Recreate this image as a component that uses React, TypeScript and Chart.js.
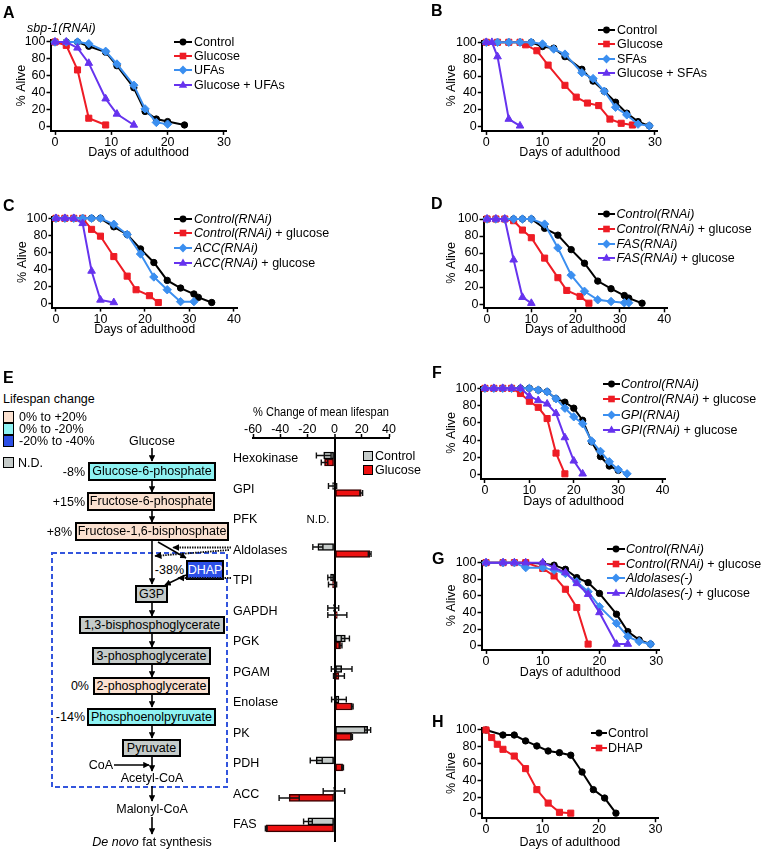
import React, { useEffect, useRef } from 'react';
import { Chart, registerables } from 'chart.js';

Chart.register(...registerables);

const FONT = '"Liberation Sans", Arimo, Arial, Helvetica, sans-serif';
const FS = 12.5;
const RED = '#ee1c25';
const BLUE = '#3b8ff0';
const PURPLE = '#6633ee';
const BLACK = '#000000';
const PEACH = '#fbe1d0';
const CYAN = '#8ef3f3';
const DBLUE = '#2c4fe6';
const GRAY = '#c5cbc9';

// ---------- Panel A : sbp-1(RNAi) ----------
const aControlDays = [0, 2, 4, 6, 9, 11, 14, 16, 18, 20, 23];
const aControl = [100, 100, 100, 95, 88, 72, 46, 18, 9, 6, 2];
const aGlucoseDays = [0, 2, 4, 6, 9];
const aGlucose = [100, 96, 67, 10, 2];
const aUfaDays = [0, 2, 4, 6, 9, 11, 14, 16, 18, 20];
const aUfa = [100, 100, 100, 98, 89, 74, 49, 21, 5, 3];
const aGluUfaDays = [0, 2, 4, 6, 9, 11, 14];
const aGluUfa = [100, 100, 93, 75, 33, 15, 2];

// ---------- Panel B ----------
const bControlDays = [0, 2, 4, 6, 8, 10, 12, 14, 17, 19, 21, 23, 25, 27, 29];
const bControl = [100, 100, 100, 100, 100, 95, 93, 83, 68, 54, 42, 29, 16, 6, 1];
const bGlucoseDays = [0, 2, 4, 6, 7, 9, 11, 14, 16, 18, 20, 22, 24, 26];
const bGlucose = [100, 100, 100, 100, 97, 90, 73, 49, 35, 28, 25, 9, 4, 2];
const bSfaDays = [0, 2, 4, 6, 8, 10, 12, 14, 17, 19, 21, 23, 25, 27, 29];
const bSfa = [100, 100, 100, 100, 100, 98, 92, 86, 64, 57, 42, 23, 14, 3, 1];
const bGluSfaDays = [0, 1, 2, 4, 6];
const bGluSfa = [100, 100, 83, 9, 1];

// ---------- Panel C ----------
const cControlDays = [0, 2, 4, 6, 8, 10, 13, 16, 19, 22, 25, 28, 31, 32, 35];
const cControl = [100, 100, 100, 100, 100, 100, 90, 81, 64, 48, 27, 18, 11, 7, 1];
const cControlGluDays = [0, 2, 4, 6, 8, 10, 13, 16, 18, 21, 23];
const cControlGlu = [100, 100, 100, 100, 87, 79, 55, 32, 16, 9, 1];
const cAccDays = [0, 2, 4, 6, 8, 10, 13, 16, 19, 22, 25, 28, 31];
const cAcc = [100, 100, 100, 100, 100, 100, 93, 81, 58, 31, 16, 2, 2];
const cAccGluDays = [0, 2, 4, 6, 8, 10, 13];
const cAccGlu = [100, 100, 100, 94, 38, 4, 1];

// ---------- Panel D ----------
const dControlDays = [0, 2, 4, 6, 8, 10, 13, 16, 19, 22, 25, 28, 31, 32, 35];
const dControl = [100, 100, 100, 100, 100, 100, 89, 81, 64, 48, 27, 18, 10, 7, 1];
const dControlGluDays = [0, 2, 4, 6, 8, 10, 13, 16, 18, 21, 23];
const dControlGlu = [100, 100, 100, 98, 87, 78, 54, 31, 16, 9, 1];
const dFasDays = [0, 2, 4, 6, 8, 10, 13, 16, 19, 22, 25, 28, 31, 32];
const dFas = [100, 100, 100, 100, 100, 100, 94, 66, 34, 15, 5, 3, 1.5, 1.5];
const dFasGluDays = [0, 2, 4, 6, 8, 10];
const dFasGlu = [100, 100, 100, 52, 8, 1];

// ---------- Panel E : bar chart ----------
const enzymes = ['Hexokinase', 'GPI', 'PFK', 'Aldolases', 'TPI', 'GAPDH', 'PGK', 'PGAM', 'Enolase', 'PK', 'PDH', 'ACC', 'FAS'];
const controlChange = [-8, -1.5, null, -12.3, -3, -1, 7.9, 5.2, 3.2, 24.3, -13.5, -0.5, -19.6];
const controlErr = [5.4, 3, null, 3.7, 2, 4, 3, 7.6, 5.4, 2.2, 4.4, 7.9, 3.2];
const glucoseChange = [-7.4, 19.6, null, 25.8, -1.5, 2, 4.4, 3.2, 13, 12.5, 5.9, -33.4, -50.3];
const glucoseErr = [2.4, 1, null, 1, 3, 7, 1, 4, 0.6, 0.6, 0.6, 7.4, 0.6];

// ---------- Panel F ----------
const fControlDays = [0, 2, 4, 6, 8, 10, 12, 14, 16, 18, 20, 22, 24, 26, 28, 30];
const fControl = [100, 100, 100, 100, 100, 100, 98, 96, 88, 84, 77, 63, 38, 21, 10, 5];
const fControlGluDays = [0, 2, 4, 6, 8, 10, 12, 14, 16, 18];
const fControlGlu = [100, 100, 100, 100, 94, 85, 78, 65, 25, 1];
const fGpiDays = [0, 2, 4, 6, 8, 10, 12, 14, 16, 18, 20, 22, 24, 26, 28, 30, 32];
const fGpi = [100, 100, 100, 100, 100, 100, 98, 96, 88, 77, 67, 59, 39, 27, 15, 6, 1];
const fGpiGluDays = [0, 2, 4, 6, 8, 10, 12, 14, 16, 18, 20, 22];
const fGpiGlu = [100, 100, 100, 100, 100, 91, 86, 82, 71, 43, 16, 1];

// ---------- Panel G ----------
const gControlDays = [0, 3, 5, 7, 10, 12, 14, 16, 18, 20, 23, 25, 27, 29];
const gControl = [100, 100, 100, 100, 99, 97, 92, 82, 76, 63, 38, 17, 7, 2];
const gControlGluDays = [0, 3, 5, 7, 10, 12, 14, 16, 18];
const gControlGlu = [100, 100, 100, 100, 93, 84, 68, 46, 2];
const gAldDays = [0, 3, 5, 7, 10, 12, 14, 16, 18, 20, 23, 25, 27, 29];
const gAld = [100, 100, 100, 94, 94, 91, 87, 77, 65, 47, 27, 11, 5, 2];
const gAldGluDays = [0, 3, 5, 7, 10, 12, 14, 16, 18, 20, 23, 25];
const gAldGlu = [100, 100, 100, 100, 100, 94, 88, 75, 62, 40, 2, 2];

// ---------- Panel H ----------
const hControlDays = [0, 3, 5, 7, 9, 11, 13, 15, 17, 19, 21, 23];
const hControl = [100, 94, 94, 87, 81, 75, 73, 70, 50, 29, 19, 1];
const hDhapDays = [0, 1, 2, 3, 5, 7, 9, 11, 13, 15];
const hDhap = [100, 91, 83, 77, 69, 54, 29, 13, 2, 1];

type Pt = 'circle' | 'rect' | 'rectRot' | 'triangle';
const RADIUS: Record<string, number> = { circle: 3.2, rect: 4.3, rectRot: 4.2, triangle: 4.4 };

interface SeriesDef { name: string; label: React.ReactNode; xs: number[]; ys: number[]; color: string; shape: Pt; }
interface PanelDef {
  area: { l: number; t: number; r: number; b: number };
  canvas: { left: number; top: number; w: number; bottom: number };
  xMin: number; xMax: number;
  yTitleX: number; xTitleY: number;
  series: SeriesDef[];
  legend: { x: number; len: number; textX: number; ys: number[] };
}

const I = (s: string) => <i>{s}</i>;

const panels: PanelDef[] = [
  {
    area: { l: 50.5, t: 40.3, r: 226.7, b: 130.9 }, canvas: { left: 0, top: 25, w: 240, bottom: 165 },
    xMin: -0.8, xMax: 30.5, yTitleX: 22, xTitleY: 152.5,
    series: [
      { name: 'Control', label: 'Control', xs: aControlDays, ys: aControl, color: BLACK, shape: 'circle' },
      { name: 'Glucose', label: 'Glucose', xs: aGlucoseDays, ys: aGlucose, color: RED, shape: 'rect' },
      { name: 'UFAs', label: 'UFAs', xs: aUfaDays, ys: aUfa, color: BLUE, shape: 'rectRot' },
      { name: 'Glucose + UFAs', label: 'Glucose + UFAs', xs: aGluUfaDays, ys: aGluUfa, color: PURPLE, shape: 'triangle' },
    ],
    legend: { x: 174, len: 18, textX: 194, ys: [42, 55.5, 70, 85] },
  },
  {
    area: { l: 481.8, t: 40.6, r: 657.7, b: 130.9 }, canvas: { left: 430, top: 25, w: 245, bottom: 165 },
    xMin: -0.8, xMax: 30.5, yTitleX: 451.5, xTitleY: 153,
    series: [
      { name: 'Control', label: 'Control', xs: bControlDays, ys: bControl, color: BLACK, shape: 'circle' },
      { name: 'Glucose', label: 'Glucose', xs: bGlucoseDays, ys: bGlucose, color: RED, shape: 'rect' },
      { name: 'SFAs', label: 'SFAs', xs: bSfaDays, ys: bSfa, color: BLUE, shape: 'rectRot' },
      { name: 'Glucose + SFAs', label: 'Glucose + SFAs', xs: bGluSfaDays, ys: bGluSfa, color: PURPLE, shape: 'triangle' },
    ],
    legend: { x: 598, len: 17, textX: 617, ys: [30, 44.3, 59, 73.3] },
  },
  {
    area: { l: 52.4, t: 216.6, r: 237.1, b: 307.6 }, canvas: { left: 0, top: 200, w: 250, bottom: 342 },
    xMin: -0.8, xMax: 40.7, yTitleX: 22.5, xTitleY: 330,
    series: [
      { name: 'Control(RNAi)', label: I('Control(RNAi)'), xs: cControlDays, ys: cControl, color: BLACK, shape: 'circle' },
      { name: 'Control(RNAi) + glucose', label: <>{I('Control(RNAi)')} + glucose</>, xs: cControlGluDays, ys: cControlGlu, color: RED, shape: 'rect' },
      { name: 'ACC(RNAi)', label: I('ACC(RNAi)'), xs: cAccDays, ys: cAcc, color: BLUE, shape: 'rectRot' },
      { name: 'ACC(RNAi) + glucose', label: <>{I('ACC(RNAi)')} + glucose</>, xs: cAccGluDays, ys: cAccGlu, color: PURPLE, shape: 'triangle' },
    ],
    legend: { x: 174, len: 18, textX: 194, ys: [218.7, 233.3, 248.3, 262.7] },
  },
  {
    area: { l: 483.5, t: 217.3, r: 667.3, b: 308.3 }, canvas: { left: 430, top: 200, w: 250, bottom: 342 },
    xMin: -0.8, xMax: 40.7, yTitleX: 451.5, xTitleY: 330,
    series: [
      { name: 'Control(RNAi)', label: I('Control(RNAi)'), xs: dControlDays, ys: dControl, color: BLACK, shape: 'circle' },
      { name: 'Control(RNAi) + glucose', label: <>{I('Control(RNAi)')} + glucose</>, xs: dControlGluDays, ys: dControlGlu, color: RED, shape: 'rect' },
      { name: 'FAS(RNAi)', label: I('FAS(RNAi)'), xs: dFasDays, ys: dFas, color: BLUE, shape: 'rectRot' },
      { name: 'FAS(RNAi) + glucose', label: <>{I('FAS(RNAi)')} + glucose</>, xs: dFasGluDays, ys: dFasGlu, color: PURPLE, shape: 'triangle' },
    ],
    legend: { x: 598, len: 17, textX: 616.5, ys: [214.3, 229.3, 244, 258.3] },
  },
  {
    area: { l: 481.4, t: 386.6, r: 665.7, b: 479 }, canvas: { left: 430, top: 370, w: 250, bottom: 514 },
    xMin: -0.8, xMax: 40.7, yTitleX: 452, xTitleY: 502,
    series: [
      { name: 'Control(RNAi)', label: I('Control(RNAi)'), xs: fControlDays, ys: fControl, color: BLACK, shape: 'circle' },
      { name: 'Control(RNAi) + glucose', label: <>{I('Control(RNAi)')} + glucose</>, xs: fControlGluDays, ys: fControlGlu, color: RED, shape: 'rect' },
      { name: 'GPI(RNAi)', label: I('GPI(RNAi)'), xs: fGpiDays, ys: fGpi, color: BLUE, shape: 'rectRot' },
      { name: 'GPI(RNAi) + glucose', label: <>{I('GPI(RNAi)')} + glucose</>, xs: fGpiGluDays, ys: fGpiGlu, color: PURPLE, shape: 'triangle' },
    ],
    legend: { x: 603, len: 17, textX: 621, ys: [384, 399.3, 414.7, 430] },
  },
  {
    area: { l: 481.5, t: 561, r: 659, b: 649.9 }, canvas: { left: 430, top: 545, w: 250, bottom: 685 },
    xMin: -0.8, xMax: 30.5, yTitleX: 452, xTitleY: 673,
    series: [
      { name: 'Control(RNAi)', label: I('Control(RNAi)'), xs: gControlDays, ys: gControl, color: BLACK, shape: 'circle' },
      { name: 'Control(RNAi) + glucose', label: <>{I('Control(RNAi)')} + glucose</>, xs: gControlGluDays, ys: gControlGlu, color: RED, shape: 'rect' },
      { name: 'Aldolases(-)', label: I('Aldolases(-)'), xs: gAldDays, ys: gAld, color: BLUE, shape: 'rectRot' },
      { name: 'Aldolases(-) + glucose', label: <>{I('Aldolases(-)')} + glucose</>, xs: gAldGluDays, ys: gAldGlu, color: PURPLE, shape: 'triangle' },
    ],
    legend: { x: 607, len: 18, textX: 626, ys: [549.3, 564, 578.3, 592.7] },
  },
  {
    area: { l: 481.5, t: 728.3, r: 658.3, b: 818.2 }, canvas: { left: 430, top: 712, w: 250, bottom: 850 },
    xMin: -0.8, xMax: 30.5, yTitleX: 452, xTitleY: 843,
    series: [
      { name: 'Control', label: 'Control', xs: hControlDays, ys: hControl, color: BLACK, shape: 'circle' },
      { name: 'DHAP', label: 'DHAP', xs: hDhapDays, ys: hDhap, color: RED, shape: 'rect' },
    ],
    legend: { x: 591, len: 16, textX: 608, ys: [733.3, 748.3] },
  },
];

function SurvivalPanel({ p }: { p: PanelDef }) {
  const ref = useRef<HTMLCanvasElement>(null);
  const w = p.canvas.w;
  const h = p.canvas.bottom - p.canvas.top;
  useEffect(() => {
    const font = { family: FONT, size: FS };
    const lh = FS * 1.2;
    const chart = new Chart(ref.current as HTMLCanvasElement, {
      type: 'line',
      data: {
        datasets: p.series.map((s, i) => ({
          label: s.name,
          data: s.xs.map((x, j) => ({ x, y: s.ys[j] })),
          borderColor: s.color,
          backgroundColor: s.color,
          pointStyle: s.shape,
          pointRadius: RADIUS[s.shape],
          pointBorderWidth: 1,
          pointBorderColor: s.color,
          pointBackgroundColor: s.color,
          borderWidth: 2,
          tension: 0,
          order: -i,
          clip: false,
        })),
      },
      options: {
        animation: false,
        responsive: false,
        maintainAspectRatio: false,
        events: [],
        layout: { padding: { left: 0, top: p.area.t - p.canvas.top, right: p.canvas.left + w - p.area.r, bottom: 0 } },
        plugins: { legend: { display: false }, tooltip: { enabled: false } },
        scales: {
          x: {
            type: 'linear', min: p.xMin, max: p.xMax,
            afterFit: (s: any) => { s.height = p.canvas.bottom - p.area.b; },
            ticks: { stepSize: 10, includeBounds: false, autoSkip: false, maxRotation: 0, color: '#000', font, padding: 0 },
            grid: { drawOnChartArea: false, tickLength: 4, tickColor: '#000', tickWidth: 1.5 },
            border: { color: '#000', width: 2 },
            title: { display: true, text: 'Days of adulthood', color: '#000', font, padding: { top: 0, bottom: Math.max(0, p.canvas.bottom - p.xTitleY - lh / 2) } },
          },
          y: {
            type: 'linear', min: -5, max: 102,
            afterFit: (s: any) => { s.width = p.area.l - p.canvas.left; },
            ticks: { stepSize: 20, includeBounds: false, autoSkip: false, color: '#000', font, padding: 1 },
            grid: { drawOnChartArea: false, tickLength: 4, tickColor: '#000', tickWidth: 1.5 },
            border: { color: '#000', width: 2 },
            title: { display: true, text: '% Alive', color: '#000', font, padding: { top: p.yTitleX - p.canvas.left - lh / 2, bottom: 0 } },
          },
        },
      } as any,
    });
    return () => chart.destroy();
  }, []);
  return (
    <canvas ref={ref} width={w} height={h}
      style={{ position: 'absolute', left: p.canvas.left, top: p.canvas.top, width: w, height: h }} />
  );
}

function Marker({ shape, color, cx, cy }: { shape: Pt; color: string; cx: number; cy: number }) {
  if (shape === 'circle') return <circle cx={cx} cy={cy} r={3.4} fill={color} />;
  if (shape === 'rect') return <rect x={cx - 3.3} y={cy - 3.3} width={6.6} height={6.6} fill={color} />;
  if (shape === 'rectRot') return <polygon points={`${cx},${cy - 4.4} ${cx + 4.4},${cy} ${cx},${cy + 4.4} ${cx - 4.4},${cy}`} fill={color} />;
  return <polygon points={`${cx},${cy - 4.6} ${cx + 4.2},${cy + 2.8} ${cx - 4.2},${cy + 2.8}`} fill={color} />;
}

function Legend({ p }: { p: PanelDef }) {
  const L = p.legend;
  return (
    <>
      {p.series.map((s, i) => (
        <React.Fragment key={i}>
          <svg width={L.len} height={12} style={{ position: 'absolute', left: L.x, top: L.ys[i] - 6, overflow: 'visible' }}>
            <line x1={0} y1={6} x2={L.len} y2={6} stroke={s.color} strokeWidth={2} />
            <Marker shape={s.shape} color={s.color} cx={L.len / 2} cy={6} />
          </svg>
          <div style={{ position: 'absolute', left: L.textX, top: L.ys[i] - 8, lineHeight: '16px', fontSize: FS, fontFamily: FONT, whiteSpace: 'nowrap', color: '#000' }}>{s.label}</div>
        </React.Fragment>
      ))}
    </>
  );
}

function LifespanBars() {
  const ref = useRef<HTMLCanvasElement>(null);
  useEffect(() => {
    const font = { family: FONT, size: FS };
    const errs = [controlErr, glucoseErr];
    const errPlugin = {
      id: 'errbars',
      afterDatasetsDraw(chart: any) {
        const ctx = chart.ctx;
        const xs = chart.scales.x;
        chart.data.datasets.forEach((ds: any, di: number) => {
          const meta = chart.getDatasetMeta(di);
          meta.data.forEach((el: any, j: number) => {
            const raw = ds.data[j];
            const e = errs[di][raw.y];
            if (e == null) return;
            const x1 = xs.getPixelForValue(raw.x - e);
            const x2 = xs.getPixelForValue(raw.x + e);
            const y = el.y;
            const hh = 3;
            ctx.save();
            ctx.strokeStyle = '#111';
            ctx.lineWidth = 1.4;
            ctx.beginPath();
            ctx.moveTo(x1, y); ctx.lineTo(x2, y);
            ctx.moveTo(x1, y - hh); ctx.lineTo(x1, y + hh);
            ctx.moveTo(x2, y - hh); ctx.lineTo(x2, y + hh);
            ctx.stroke();
            ctx.restore();
          });
        });
      },
    };
    const toData = (vals: (number | null)[]) =>
      vals.map((v, i) => ({ x: v, y: i })).filter((d) => d.x !== null);
    const chart = new Chart(ref.current as HTMLCanvasElement, {
      type: 'bar',
      data: {
        datasets: [
          { label: 'Control', data: toData(controlChange), backgroundColor: GRAY, borderColor: '#000', borderWidth: 1.5, barThickness: 7, borderSkipped: false },
          { label: 'Glucose', data: toData(glucoseChange), backgroundColor: '#ee1111', borderColor: '#3a0000', borderWidth: 1.5, barThickness: 7, borderSkipped: false },
        ],
      },
      options: {
        indexAxis: 'y',
        animation: false,
        responsive: false,
        maintainAspectRatio: false,
        events: [],
        layout: { padding: { left: 3, top: 0, right: 43, bottom: 8 } },
        plugins: { legend: { display: false }, tooltip: { enabled: false } },
        scales: {
          x: {
            type: 'linear', position: 'top', min: -60, max: 40,
            afterFit: (s: any) => { s.height = 43; },
            ticks: { stepSize: 20, includeBounds: false, autoSkip: false, maxRotation: 0, color: '#000', font, padding: -3 },
            grid: {
              drawOnChartArea: true,
              color: (c: any) => (c.tick && c.tick.value === 0 ? '#000' : 'rgba(0,0,0,0)'),
              lineWidth: (c: any) => (c.tick && c.tick.value === 0 ? 2 : 1),
              tickColor: '#000', tickLength: 4, tickWidth: 1.5,
            },
            border: { color: '#000', width: 2 },
            title: { display: true, text: '% Change of mean lifespan', color: '#000', font, padding: { top: 10, bottom: 0 } },
          },
          y: {
            type: 'linear', reverse: true, min: -0.69, max: 12.56, offset: false,
            afterFit: (s: any) => { s.width = 20; },
            ticks: {
              stepSize: 1, includeBounds: false, autoSkip: false, maxTicksLimit: 30,
              mirror: true, crossAlign: 'near', padding: -20, color: '#000', font,
              callback: (v: any) => (enzymes[v] !== undefined ? enzymes[v] : ''),
            },
            grid: { display: false, offset: false },
            border: { display: false },
          },
        },
      } as any,
      plugins: [errPlugin],
    });
    return () => chart.destroy();
  }, []);
  return <canvas ref={ref} width={202} height={455} style={{ position: 'absolute', left: 230, top: 395, width: 202, height: 455 }} />;
}

function Txt({ x, y, children, size = FS, align = 'left', style }: any) {
  const lh = 16;
  const base: any = { position: 'absolute', top: y - lh / 2, lineHeight: lh + 'px', fontSize: size, fontFamily: FONT, whiteSpace: 'nowrap', color: '#000', ...style };
  if (align === 'left') return <div style={{ ...base, left: x }}>{children}</div>;
  if (align === 'right') return <div style={{ ...base, right: 762 - x, textAlign: 'right' }}>{children}</div>;
  return <div style={{ ...base, left: x - 150, width: 300, textAlign: 'center' }}>{children}</div>;
}

function PanelLabel({ x, y, t }: { x: number; y: number; t: string }) {
  return <div style={{ position: 'absolute', left: x, top: y - 2, fontSize: 16, lineHeight: '16px', fontWeight: 'bold', fontFamily: FONT, color: '#000' }}>{t}</div>;
}

function Box({ x1, y1, x2, y2, fill, text, color = '#000' }: any) {
  return (
    <div style={{
      position: 'absolute', left: x1, top: y1, width: x2 - x1, height: y2 - y1, boxSizing: 'border-box',
      border: '2px solid #000', background: fill, color, fontFamily: FONT, fontSize: FS,
      display: 'flex', alignItems: 'center', justifyContent: 'center', whiteSpace: 'nowrap', lineHeight: 1,
    }}>{text}</div>
  );
}

function Pathway() {
  const boxes = [
    { x1: 88, y1: 462, x2: 216, y2: 481, fill: CYAN, text: 'Glucose-6-phosphate', pct: '-8%', px: 85 },
    { x1: 87, y1: 492, x2: 215, y2: 511, fill: PEACH, text: 'Fructose-6-phosphate', pct: '+15%', px: 85 },
    { x1: 75, y1: 522, x2: 229, y2: 541, fill: PEACH, text: 'Fructose-1,6-bisphosphate', pct: '+8%', px: 72 },
    { x1: 186, y1: 560, x2: 224, y2: 580, fill: DBLUE, text: 'DHAP', pct: '-38%', px: 184, color: '#fff' },
    { x1: 135, y1: 585, x2: 168, y2: 603, fill: GRAY, text: 'G3P' },
    { x1: 79, y1: 616, x2: 225, y2: 634, fill: GRAY, text: '1,3-bisphosphoglycerate' },
    { x1: 92, y1: 647, x2: 211, y2: 665, fill: GRAY, text: '3-phosphoglycerate' },
    { x1: 93, y1: 677, x2: 210, y2: 695, fill: PEACH, text: '2-phosphoglycerate', pct: '0%', px: 89 },
    { x1: 87, y1: 708, x2: 216, y2: 726, fill: CYAN, text: 'Phosphoenolpyruvate', pct: '-14%', px: 85 },
    { x1: 122, y1: 739, x2: 181, y2: 757, fill: GRAY, text: 'Pyruvate' },
  ];
  const arrows = [
    [152, 448, 152, 461], [152, 481, 152, 492], [152, 511, 152, 522], [152, 541, 152, 584],
    [158, 542, 186, 558], [186, 575, 165, 585],
    [152, 603, 152, 616], [152, 634, 152, 647], [152, 665, 152, 677], [152, 695, 152, 707],
    [152, 726, 152, 738], [152, 757, 152, 771], [114, 765, 149, 765],
    [152, 786, 152, 801], [152, 817, 152, 834],
  ];
  const dotted = [
    [231, 547.5, 173, 547.5], [229, 550, 155, 556], [231, 578, 178, 578],
  ];
  return (
    <>
      <Txt x={3} y={399}>Lifespan change</Txt>
      {[
        { y1: 411, fill: PEACH, t: '0% to +20%', ty: 416.5 },
        { y1: 423, fill: CYAN, t: '0% to -20%', ty: 428.5 },
        { y1: 435, fill: DBLUE, t: '-20% to -40%', ty: 441 },
      ].map((s, i) => (
        <React.Fragment key={i}>
          <div style={{ position: 'absolute', left: 3, top: s.y1, width: 11, height: 12, boxSizing: 'border-box', border: '1.5px solid #000', background: s.fill }} />
          <Txt x={19} y={s.ty}>{s.t}</Txt>
        </React.Fragment>
      ))}
      <div style={{ position: 'absolute', left: 3, top: 457, width: 11, height: 11, boxSizing: 'border-box', border: '1.5px solid #000', background: GRAY }} />
      <Txt x={18} y={462.5}>N.D.</Txt>
      <Txt x={152} y={441} align="center">Glucose</Txt>
      {boxes.map((b, i) => (
        <React.Fragment key={i}>
          <Box {...b} />
          {b.pct ? <Txt x={b.px} y={(b.y1 + b.y2) / 2} align="right">{b.pct}</Txt> : null}
        </React.Fragment>
      ))}
      <Txt x={101} y={765} align="center">CoA</Txt>
      <Txt x={152} y={778} align="center">Acetyl-CoA</Txt>
      <Txt x={152} y={809} align="center">Malonyl-CoA</Txt>
      <Txt x={152} y={842} align="center"><i>De novo</i> fat synthesis</Txt>
      <svg width={762} height={850} style={{ position: 'absolute', left: 0, top: 0, pointerEvents: 'none' }}>
        <defs>
          <marker id="ah" viewBox="0 0 10 10" refX="9" refY="5" markerWidth="4" markerHeight="4" orient="auto">
            <path d="M0,0 L10,5 L0,10 z" fill="#000" />
          </marker>
        </defs>
        <rect x={52} y={553} width={175} height={234} fill="none" stroke="#3355dd" strokeWidth={2} strokeDasharray="5 3" />
        {arrows.map((a, i) => (
          <line key={i} x1={a[0]} y1={a[1]} x2={a[2]} y2={a[3]} stroke="#000" strokeWidth={1.6} markerEnd="url(#ah)" />
        ))}
        {dotted.map((a, i) => (
          <line key={'d' + i} x1={a[0]} y1={a[1]} x2={a[2]} y2={a[3]} stroke="#111" strokeWidth={1.8} strokeDasharray="1.5 1" markerEnd="url(#ah)" />
        ))}
      </svg>
    </>
  );
}

export default function App() {
  return (
    <div style={{ position: 'absolute', left: 0, top: 0, width: 762, height: 850, overflow: 'hidden', background: '#fff', fontFamily: FONT }}>
      {panels.map((p, i) => <SurvivalPanel key={i} p={p} />)}
      {panels.map((p, i) => <Legend key={'l' + i} p={p} />)}
      <LifespanBars />
      <Pathway />
      <Txt x={27} y={27.5}><i>sbp-1(RNAi)</i></Txt>
      <Txt x={318} y={519} align="center" size={11.5}>N.D.</Txt>
      <div style={{ position: 'absolute', left: 363, top: 451, width: 10, height: 10, boxSizing: 'border-box', border: '1.5px solid #000', background: GRAY }} />
      <div style={{ position: 'absolute', left: 363, top: 465, width: 10, height: 10, boxSizing: 'border-box', border: '1.5px solid #000', background: '#ee1111' }} />
      <Txt x={375} y={456}>Control</Txt>
      <Txt x={375} y={470}>Glucose</Txt>
      <PanelLabel x={3} y={7} t="A" />
      <PanelLabel x={431} y={5} t="B" />
      <PanelLabel x={3} y={200} t="C" />
      <PanelLabel x={431} y={198} t="D" />
      <PanelLabel x={3} y={372} t="E" />
      <PanelLabel x={432} y={367} t="F" />
      <PanelLabel x={432} y={553} t="G" />
      <PanelLabel x={432} y={716} t="H" />
    </div>
  );
}
